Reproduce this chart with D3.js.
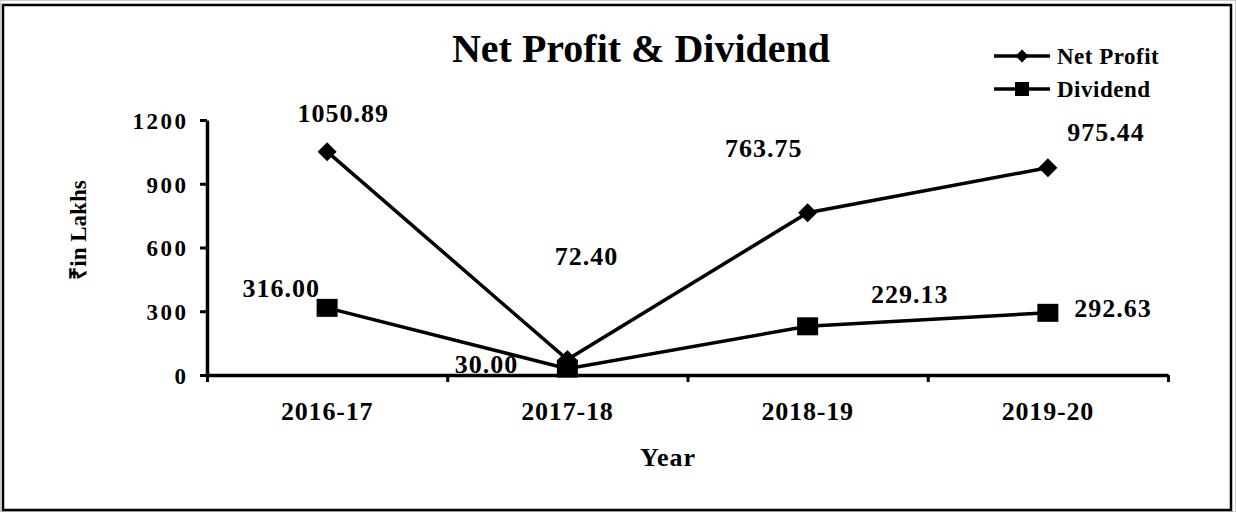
<!DOCTYPE html>
<html>
<head>
<meta charset="utf-8">
<script src="https://cdn.jsdelivr.net/npm/d3@7"></script>
<style>
  body { margin: 0; background: #fff; }
  svg text { font-family: "Liberation Serif", "Times New Roman", serif; font-weight: bold; fill: #000; }
</style>
</head>
<body>
<div id="chart"></div>
<script>
// data
var years = ['2016-17', '2017-18', '2018-19', '2019-20'];
var netProfit = [1050.89, 72.40, 763.75, 975.44];
var dividend = [316.00, 30.00, 229.13, 292.63];
var yTicks = [0, 300, 600, 900, 1200];

// where each value label sits relative to its marker
var npLabelOffset = [[16, -30], [19, -95], [-44, -56], [58, -27]];
var dvLabelOffset = [[-46, -11], [-81, 4], [102, -23], [65, 4]];

var W = 1236, H = 512;
var margin = {top: 120, right: 68, bottom: 137, left: 207};

var svg = d3.select('#chart')
  .append('svg')
  .attr('width', W)
  .attr('height', H);

// outer frame
svg.append('rect')
  .attr('x', 0.5).attr('y', 0.5)
  .attr('width', W - 1).attr('height', H - 1)
  .attr('fill', 'none').attr('stroke', '#ccc');
svg.append('rect')
  .attr('x', 3).attr('y', 5)
  .attr('width', 1228).attr('height', 505)
  .attr('fill', 'none').attr('stroke', '#000').attr('stroke-width', 2.5);

var x = d3.scaleBand()
  .domain(years)
  .range([margin.left, W - margin.right])
  .padding(0);

var y = d3.scaleLinear()
  .domain([0, 1200])
  .range([H - margin.bottom, margin.top]);

function cx(d) { return x(d) + x.bandwidth() / 2; }

// Y axis
var yAxis = svg.append('g')
  .attr('transform', 'translate(' + margin.left + ',0)')
  .call(d3.axisLeft(y).tickValues(yTicks).tickFormat(d3.format('d'))
    .tickSize(7).tickSizeOuter(0).tickPadding(14));
yAxis.select('.domain').attr('stroke-width', 3.5);
yAxis.selectAll('.tick line').attr('stroke-width', 3);
yAxis.selectAll('.tick text')
  .style('font-size', '23px')
  .style('letter-spacing', '2.5px')
  .attr('dx', '2.5')
  .attr('dy', '0.36em');

// X axis (ticks at category boundaries)
var xEdge = d3.scaleLinear().domain([0, years.length]).range(x.range());
var xAxis = svg.append('g')
  .attr('transform', 'translate(0,' + y(0) + ')')
  .call(d3.axisBottom(xEdge).tickValues(d3.range(years.length + 1))
    .tickSize(7).tickSizeOuter(0).tickFormat(''));
xAxis.select('.domain').attr('stroke-width', 3.5);
xAxis.selectAll('.tick line').attr('stroke-width', 3);

svg.append('g').selectAll('text')
  .data(years)
  .enter().append('text')
  .attr('x', cx)
  .attr('y', 420)
  .attr('text-anchor', 'middle')
  .style('font-size', '26px')
  .style('letter-spacing', '0.8px')
  .text(function(d) { return d; });

// axis titles
svg.append('text')
  .attr('x', 668).attr('y', 466)
  .attr('text-anchor', 'middle')
  .style('font-size', '26px')
  .style('letter-spacing', '1px')
  .text('Year');

svg.append('text')
  .attr('transform', 'translate(86,230) rotate(-90)')
  .attr('text-anchor', 'middle')
  .style('font-size', '23px')
  .text('₹in Lakhs');

// title
svg.append('text')
  .attr('x', 641).attr('y', 62)
  .attr('text-anchor', 'middle')
  .style('font-size', '40px')
  .text('Net Profit & Dividend');

// lines
var line = d3.line()
  .x(function(d, i) { return cx(years[i]); })
  .y(function(d) { return y(d); });

svg.append('path')
  .datum(netProfit)
  .attr('d', line)
  .attr('fill', 'none').attr('stroke', '#000').attr('stroke-width', 3.5);

svg.append('path')
  .datum(dividend)
  .attr('d', line)
  .attr('fill', 'none').attr('stroke', '#000').attr('stroke-width', 3.5);

// markers
var diamond = d3.symbol().type(d3.symbolDiamond2).size(230);
svg.append('g').selectAll('path')
  .data(netProfit)
  .enter().append('path')
  .attr('d', diamond)
  .attr('transform', function(d, i) { return 'translate(' + cx(years[i]) + ',' + y(d) + ')'; })
  .attr('fill', '#000');

svg.append('g').selectAll('rect')
  .data(dividend)
  .enter().append('rect')
  .attr('x', function(d, i) { return cx(years[i]) - 10.5; })
  .attr('y', function(d) { return y(d) - 9; })
  .attr('width', 21).attr('height', 18)
  .attr('fill', '#000');

// value labels
function addLabels(values, offsets) {
  svg.append('g').selectAll('text')
    .data(values)
    .enter().append('text')
    .attr('x', function(d, i) { return cx(years[i]) + offsets[i][0]; })
    .attr('y', function(d, i) { return y(d) + offsets[i][1]; })
    .attr('text-anchor', 'middle')
    .style('font-size', '26px')
    .style('letter-spacing', '1px')
    .text(function(d) { return d.toFixed(2); });
}
addLabels(netProfit, npLabelOffset);
addLabels(dividend, dvLabelOffset);

// legend
var legendItems = [
  {name: 'Net Profit', y: 56, shape: 'diamond'},
  {name: 'Dividend', y: 89, shape: 'square'}
];
var legend = svg.append('g');
legendItems.forEach(function(item) {
  legend.append('line')
    .attr('x1', 994).attr('x2', 1050)
    .attr('y1', item.y).attr('y2', item.y)
    .attr('stroke', '#000').attr('stroke-width', 3.5);
  if (item.shape == 'diamond') {
    legend.append('path')
      .attr('d', d3.symbol().type(d3.symbolDiamond2).size(110)())
      .attr('transform', 'translate(1022,' + item.y + ')')
      .attr('fill', '#000');
  } else {
    legend.append('rect')
      .attr('x', 1015).attr('y', item.y - 7)
      .attr('width', 14).attr('height', 14)
      .attr('fill', '#000');
  }
  legend.append('text')
    .attr('x', 1057).attr('y', item.y + 8)
    .style('font-size', '23px')
    .style('letter-spacing', '0.5px')
    .text(item.name);
});
</script>
</body>
</html>
